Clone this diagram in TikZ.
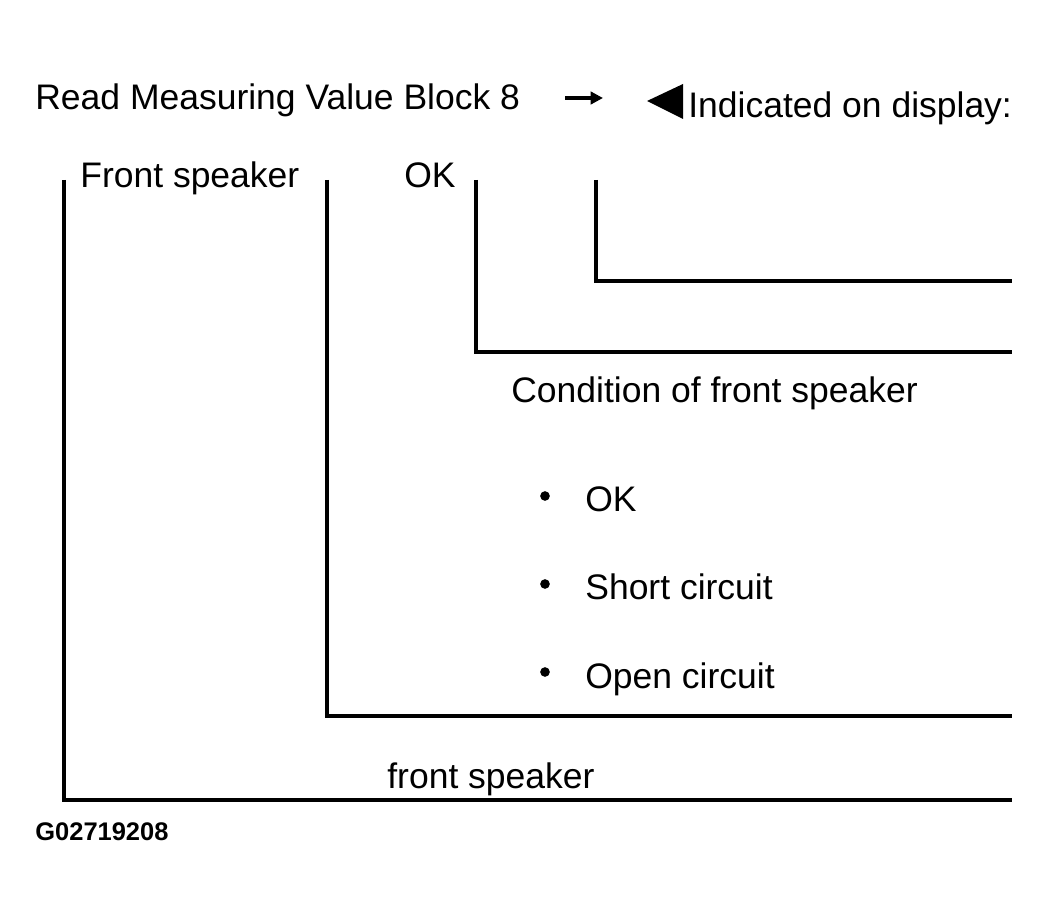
\documentclass[tikz,border=0pt]{standalone}
\usepackage{fontspec}
\setmainfont{Liberation Sans}
\usetikzlibrary{arrows.meta}
\tikzset{
  label text/.style={anchor=base west, inner sep=0pt, font=\fontsize{20.2}{24}\selectfont},
  bracket/.style={line width=1.8pt},
}
\begin{document}
\begin{tikzpicture}[x=0.02cm, y=-0.02cm]
  \useasboundingbox (0,0) rectangle (1049,915);
  % heading
  \node[label text] (read) at (35,110) {Read Measuring Value Block 8};
  \coordinate (arrS) at (565,98);
  \coordinate (arrE) at (603,98);
  \draw[line width=2pt, -{Triangle[length=7pt,width=7pt]}] (arrS) -- (arrE);
  \fill (647,101) coordinate (tri) -- (683,84) -- (683,119) -- cycle;
  \node[label text] (disp) at (688,118) {Indicated on display:};
  % brackets
  \coordinate (fsT) at (64,180);  \coordinate (fsR) at (1012,800);
  \coordinate (stT) at (327,180); \coordinate (stR) at (1012,716);
  \coordinate (okT) at (476,180); \coordinate (okR) at (1012,352);
  \coordinate (dpT) at (596,180); \coordinate (dpR) at (1012,281);
  \draw[bracket] (fsT) |- (fsR);
  \draw[bracket] (stT) |- (stR);
  \draw[bracket] (okT) |- (okR);
  \draw[bracket] (dpT) |- (dpR);
  % labels
  \node[label text] (front) at (80,188) {Front speaker};
  \node[label text] (ok) at (404,188) {OK};
  \node[label text] (cond) at (511,403) {Condition of front speaker};
  \foreach \txt [count=\i] in {OK, Short circuit, Open circuit} {
    \node[circle, fill, inner sep=0pt, minimum size=5.5pt] (dot\i) at (545,496+88*\i-88) {};
    \node[label text] (item\i) at (585,512+88*\i-88) {\txt};
  }
  \node[label text] (fspk) at (387,788) {front speaker};
  \node[anchor=base west, inner sep=0pt, font=\fontsize{14.5}{16}\selectfont\bfseries] (fig) at (35,840) {G02719208};
\end{tikzpicture}
\end{document}
